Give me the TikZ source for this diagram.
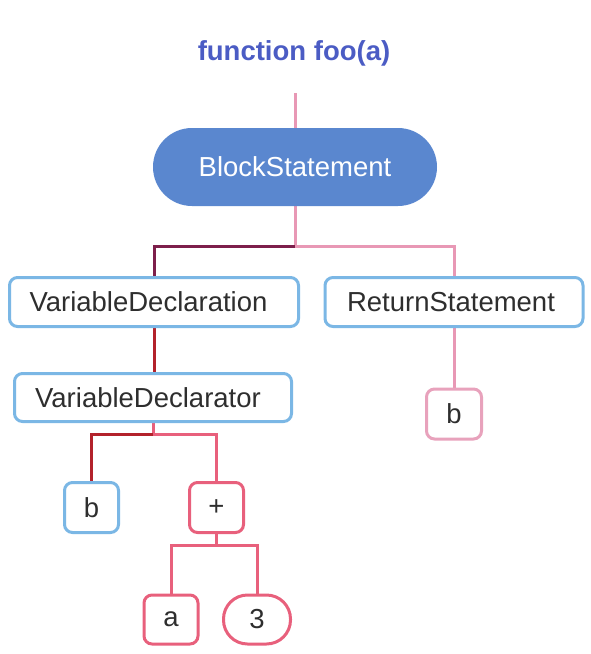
\documentclass[tikz,border=0pt]{standalone}
\usepackage{fontspec}
\setmainfont{Liberation Sans}
\usetikzlibrary{backgrounds,shapes.misc}
\definecolor{titlec}{HTML}{4B5CC4}
\definecolor{bluec}{HTML}{7BB7E5}
\definecolor{blockc}{HTML}{5A87CF}
\definecolor{pinkc}{HTML}{E898B5}
\definecolor{maroonc}{HTML}{7D1F4B}
\definecolor{darkredc}{HTML}{B3222B}
\definecolor{redpinkc}{HTML}{E8607C}
\definecolor{lightpinkc}{HTML}{E8A2BC}
\definecolor{txtc}{HTML}{2E2E2E}
\tikzset{
  astbox/.style={draw=bluec, line width=3pt, rounded corners=8pt, fill=white,
    text=txtc, font=\fontsize{27.5}{33}\selectfont, inner sep=0pt},
  redbox/.style={astbox, draw=redpinkc},
  pinkbox/.style={astbox, draw=lightpinkc},
  conn/.style={line width=3pt},
}
\begin{document}
\begin{tikzpicture}[x=1pt,y=-1pt]
\useasboundingbox (0,0) rectangle (590,654);
\node[font=\bfseries\fontsize{27.5}{33}\selectfont, text=titlec] (title) at (294,53) {function foo(a)};
\node[rounded rectangle, fill=blockc, text=white, font=\fontsize{27.5}{33}\selectfont,
  minimum width=284pt, minimum height=78pt, inner sep=0pt] (block) at (295,167) {BlockStatement};
\node[astbox, minimum width=289pt, minimum height=49pt] (vdecl) at (154,302) {VariableDeclaration\hspace*{11pt}};
\node[astbox, minimum width=258pt, minimum height=49pt] (ret) at (454,302) {ReturnStatement\hspace*{6pt}};
\node[astbox, minimum width=277pt, minimum height=48pt] (vdtor) at (153,397.5) {VariableDeclarator\hspace*{10pt}};
\node[pinkbox, minimum width=55pt, minimum height=50pt] (rb) at (454,414) {b};
\node[astbox, minimum width=54pt, minimum height=50pt] (lb) at (91.5,507.5) {b};
\node[redbox, minimum width=54pt, minimum height=50pt] (plus) at (216.5,507.5) {+};
\node[redbox, minimum width=54pt, minimum height=49pt] (a) at (171,619.5) {a};
\node[redbox, rounded corners=24pt, minimum width=67pt, minimum height=49pt] (three) at (257,619.5) {3};
\coordinate (top) at (295,93);
\coordinate (j1) at (295,246);
\coordinate (j2) at (153,434);
\coordinate (j3) at (216.5,545);
\begin{scope}[on background layer]
\draw[conn, pinkc] (top) -- (block.north);
\draw[conn, pinkc] (block.south) -- (j1) -| (ret.north);
\draw[conn, maroonc] (j1) -| (vdecl.north);
\draw[conn, darkredc] (vdecl.south) -- (vdecl.south |- vdtor.north);
\draw[conn, pinkc] (ret.south) -- (rb.north);
\draw[conn, redpinkc] (vdtor.south) -- (j2) -| (plus.north);
\draw[conn, darkredc] (j2) -| (lb.north);
\draw[conn, redpinkc] (plus.south) -- (j3) -| (a.north);
\draw[conn, redpinkc] (j3) -| (three.north);
\end{scope}
\end{tikzpicture}
\end{document}
